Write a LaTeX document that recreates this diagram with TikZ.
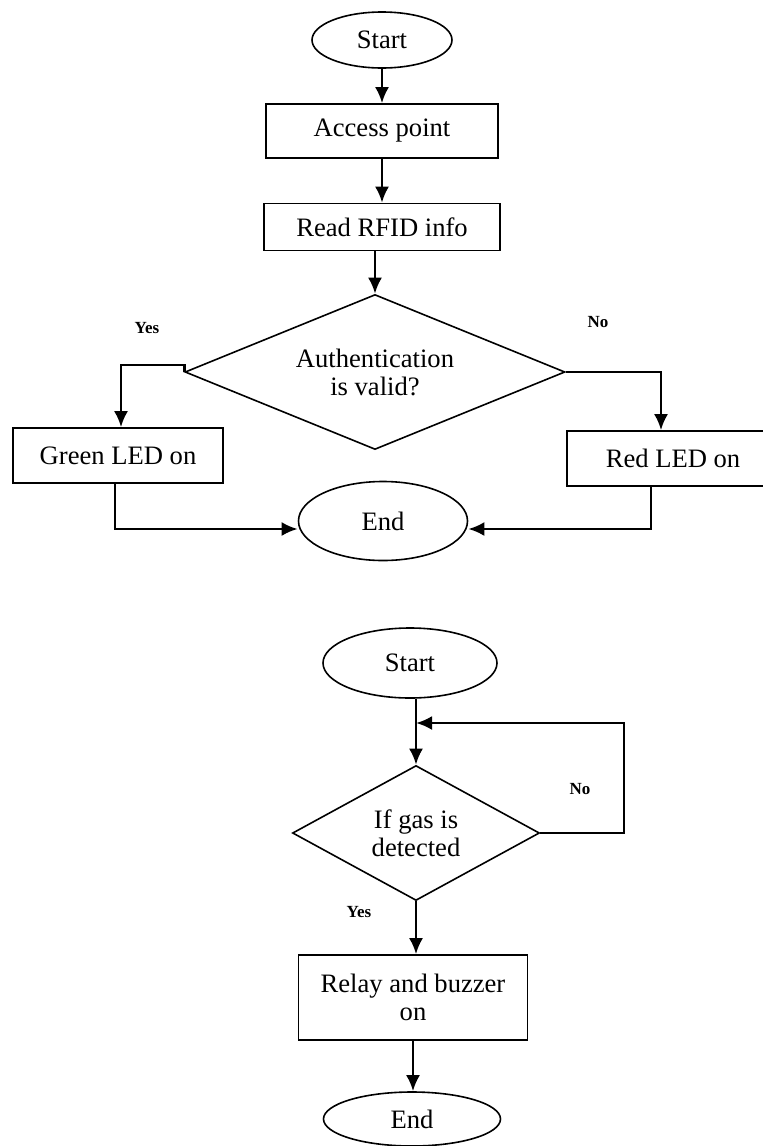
\documentclass[tikz,border=0pt]{standalone}
\usepackage{fontspec}
\setmainfont{Liberation Serif}
\usetikzlibrary{arrows.meta,shapes.geometric}

\tikzset{
  box/.style={draw, line width=0.8pt, rectangle, align=center, inner sep=0pt},
  term/.style={draw, line width=0.8pt, ellipse, inner sep=0pt},
  test/.style={draw, line width=0.8pt, diamond, align=center, inner sep=0pt},
  flow/.style={line width=1.3pt, -{Latex[length=8pt,width=7pt]}},
  ans/.style={font=\bfseries\fontsize{8.5}{10}\selectfont}
}

\begin{document}
\begin{tikzpicture}[x=0.5pt, y=-0.5pt, font=\fontsize{13.3}{14}\selectfont]
        \useasboundingbox (0,0) rectangle (762,1146);
        % RFID access
        \node[term, minimum width=70pt, minimum height=28pt] (start1) at (382,40) {Start};
        \node[box, minimum width=116pt, minimum height=27pt] (access) at (382,131) {Access point};
        \node[box, minimum width=118pt, minimum height=23.5pt] (rfid) at (382,227) {Read RFID info};
        \node[test, aspect=2.45, minimum width=190pt, minimum height=77.5pt] (auth) at (375,372) {Authentication\\is valid?};
        \node[box, minimum width=105pt, minimum height=27.5pt] (green) at (118,455.5) {Green LED on};
        \node[box, minimum width=106pt, minimum height=27.5pt] (red) at (673,458.5) {Red LED on};
        \node[term, minimum width=84.5pt, minimum height=39.5pt] (end1) at (383,521) {End};
        \node[ans] (yes1) at (147,328) {Yes};
        \node[ans] (no1) at (598,322) {No};
        \draw[flow] (start1) -- (access);
        \draw[flow] (access) -- (rfid);
        \draw[flow] (auth.north |- rfid.south) -- (auth.north);
        \draw[flow] (auth.west) -- ++(0,-7) -| ([xshift=1.5pt]green.north);
        \draw[flow] (auth.east) -| ([xshift=-6pt]red.north);
        \draw[flow] ([xshift=-1.5pt]green.south) |- ([yshift=-4pt]end1.west);
        \draw[flow] ([xshift=-11pt]red.south) |- ([yshift=-4pt]end1.east);
        % gas sensor
        \node[term, minimum width=87pt, minimum height=35pt] (start2) at (410,663) {Start};
        \node[test, aspect=1.8, minimum width=123.5pt, minimum height=67.5pt] (gas) at (416,833) {If gas is\\detected};
        \node[box, minimum width=114.5pt, minimum height=42.5pt] (relay) at (413,997.5) {Relay and buzzer\\on};
        \node[term, minimum width=88.5pt, minimum height=27pt] (end2) at (412,1119) {End};
        \node[ans] (no2) at (580,789) {No};
        \node[ans] (yes2) at (359,912) {Yes};
        \coordinate (back) at (624,723);
        \draw[flow] (gas.north |- start2.south) -- (gas.north);
        \draw[flow] (gas.east) -| (back) -- (back -| gas.north);
        \draw[flow] (gas.south) -- (gas.south |- relay.north);
        \draw[flow] (relay.south) -- (relay.south |- end2.north);
    \end{tikzpicture}
\end{document}
